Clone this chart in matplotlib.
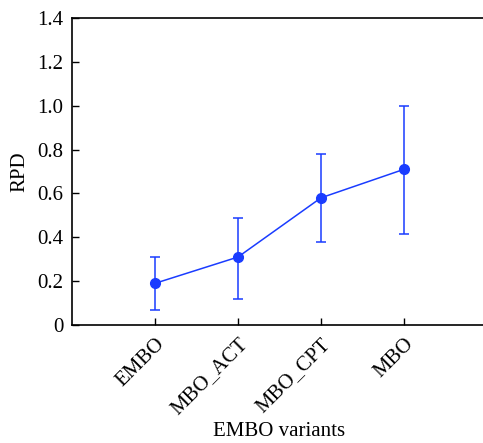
import matplotlib
matplotlib.use("Agg")
import matplotlib.pyplot as plt

categories = ["EMBO", "MBO_ACT", "MBO_CPT", "MBO"]
means = [0.19, 0.31, 0.58, 0.71]
lower = [0.07, 0.12, 0.38, 0.415]
upper = [0.31, 0.49, 0.78, 1.0]
yticks = [0, 0.2, 0.4, 0.6, 0.8, 1.0, 1.2, 1.4]
ytick_labels = ["0", "0.2", "0.4", "0.6", "0.8", "1.0", "1.2", "1.4"]

plt.rcParams['font.family'] = ['Liberation Serif', 'DejaVu Serif']

fig = plt.figure(figsize=(4.83, 4.43), dpi=100)
ax = fig.add_axes([72/483, 1-325/443, 415/483, (325-18)/443])

x = list(range(1, len(categories)+1))
yerr = [[m - l for m, l in zip(means, lower)], [u - m for m, u in zip(means, upper)]]
color = "#1a3cff"
ax.errorbar(x, means, yerr=yerr, color=color, marker='o', markersize=7, lw=1.1,
            capsize=3.5, capthick=1.1, elinewidth=1.1)

ax.set_xlim(0, 5)
ax.set_ylim(0, 1.4)
ax.set_yticks(yticks)
ax.set_yticklabels(ytick_labels)
ax.set_xticks(x)
ax.set_xticklabels(categories, rotation=45, ha='right', rotation_mode='anchor')
ax.tick_params(direction='in', length=5, width=1, labelsize=15)
ax.tick_params(axis='y', pad=6)
ax.tick_params(axis='x', pad=7)
ax.spines['right'].set_visible(False)
for s in ['left', 'top', 'bottom']:
    ax.spines[s].set_linewidth(1.2)
ax.set_xlabel("EMBO variants", fontsize=15, labelpad=2)
ax.set_ylabel("RPD", fontsize=15, labelpad=6)

fig.savefig("out.png", dpi=100)
